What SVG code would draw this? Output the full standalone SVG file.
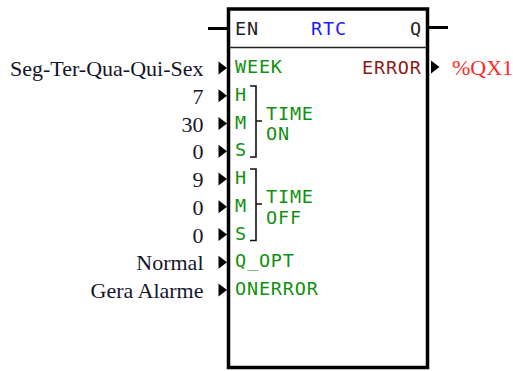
<svg xmlns="http://www.w3.org/2000/svg" width="513" height="371" viewBox="0 0 513 371">
<style>
.pin{font-family:"DejaVu Sans Mono","Liberation Mono",monospace;font-size:18.5px;letter-spacing:0.8px;fill:#119011}
.hdr{font-family:"DejaVu Sans Mono","Liberation Mono",monospace;font-size:18.5px;letter-spacing:0.8px;fill:#222}
.var{font-family:"Liberation Serif","Times New Roman",serif;font-size:22px;fill:#15152a;text-anchor:end}
.br{fill:none;stroke:#111;stroke-width:1.6}
.wire{stroke:#000;stroke-width:3;fill:none}
</style>
<defs>
<path id="arr" d="M0,-6.5 L8.5,0 L0,6.5 Z" fill="#000"/>
</defs>
<g id="rtc_block">
<rect x="228.5" y="9" width="199" height="358.5" fill="#fff" stroke="#000" stroke-width="3.5"/>
<line x1="230" y1="47.5" x2="426" y2="47.5" stroke="#222" stroke-width="1.5"/>
<text class="hdr" x="235" y="35">EN</text>
<text class="hdr" x="311" y="35" style="fill:#1a1aff">RTC</text>
<text class="hdr" x="410" y="35">Q</text>
<text class="pin" x="235" y="73">WEEK</text>
<text class="pin" x="362" y="74" style="fill:#8e1a1a">ERROR</text>
<text class="pin" x="235" y="100.75">H</text>
<text class="pin" x="235" y="128.5">M</text>
<text class="pin" x="235" y="156.25">S</text>
<text class="pin" x="235" y="184">H</text>
<text class="pin" x="235" y="211.75">M</text>
<text class="pin" x="235" y="239.5">S</text>
<text class="pin" x="235" y="267.25">Q_OPT</text>
<text class="pin" x="235" y="295">ONERROR</text>
<path class="br" d="M250,86 H256 V157 H250 M256,121 H262"/>
<path class="br" d="M250,169 H256 V240.5 H250 M256,204 H262"/>
<text class="pin" x="266" y="120">TIME</text>
<text class="pin" x="266" y="140">ON</text>
<text class="pin" x="266" y="203">TIME</text>
<text class="pin" x="266" y="223.5">OFF</text>
</g>
<g id="in_week"><text class="var" x="203.5" y="76">Seg-Ter-Qua-Qui-Sex</text></g>
<g id="in_on_h"><text class="var" x="203.5" y="103.75">7</text></g>
<g id="in_on_m"><text class="var" x="203.5" y="131.5">30</text></g>
<g id="in_on_s"><text class="var" x="203.5" y="159.25">0</text></g>
<g id="in_off_h"><text class="var" x="203.5" y="187">9</text></g>
<g id="in_off_m"><text class="var" x="203.5" y="214.75">0</text></g>
<g id="in_off_s"><text class="var" x="203.5" y="242.5">0</text></g>
<g id="in_qopt"><text class="var" x="203.5" y="270.25">Normal</text></g>
<g id="in_onerror"><text class="var" x="203.5" y="298">Gera Alarme</text></g>
<g id="out_error"><text class="var" x="452" y="75" style="text-anchor:start;fill:#ff2a2a">%QX1</text></g>
<g id="connectors">
<line class="wire" x1="208" y1="28.5" x2="227" y2="28.5"/>
<line class="wire" x1="429" y1="27.5" x2="448" y2="27.5"/>
<use href="#arr" x="218.5" y="68"/>
<use href="#arr" x="218.5" y="95.75"/>
<use href="#arr" x="218.5" y="123.5"/>
<use href="#arr" x="218.5" y="151.25"/>
<use href="#arr" x="218.5" y="179"/>
<use href="#arr" x="218.5" y="206.75"/>
<use href="#arr" x="218.5" y="234.5"/>
<use href="#arr" x="218.5" y="262.25"/>
<use href="#arr" x="218.5" y="290"/>
<use href="#arr" x="431" y="67"/>
</g>
</svg>
